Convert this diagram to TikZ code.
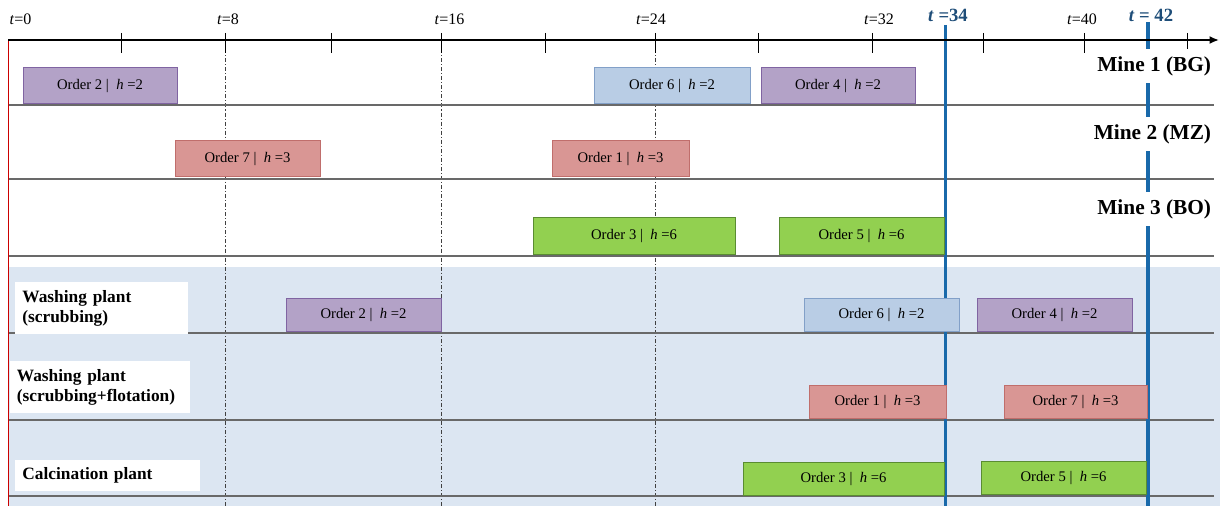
\documentclass[tikz,border=0pt]{standalone}
\usepackage{fontspec}
\setmainfont{Liberation Serif}
\usepackage{tikz}
\usetikzlibrary{arrows.meta,positioning}
\definecolor{jobpurple}{RGB}{179,162,199}
\definecolor{jobpurpleline}{RGB}{128,100,162}
\definecolor{jobblue}{RGB}{185,205,229}
\definecolor{jobblueline}{RGB}{130,160,200}
\definecolor{jobred}{RGB}{217,150,148}
\definecolor{jobredline}{RGB}{192,110,108}
\definecolor{jobgreen}{RGB}{146,208,80}
\definecolor{jobgreenline}{RGB}{90,140,50}
\definecolor{plantshade}{RGB}{220,230,242}
\definecolor{rowgray}{RGB}{105,105,105}
\definecolor{cutblue}{RGB}{25,105,170}
\definecolor{cuttext}{RGB}{31,78,121}
\tikzset{
  order/.style={draw, line width=0.75pt, inner sep=0pt, font=\fontsize{11}{13}\selectfont},
  purplejob/.style={order, fill=jobpurple, draw=jobpurpleline},
  bluejob/.style={order, fill=jobblue, draw=jobblueline},
  redjob/.style={order, fill=jobred, draw=jobredline},
  greenjob/.style={order, fill=jobgreen, draw=jobgreenline},
  minerow/.style={minimum height=27pt},
  plantrow/.style={minimum height=24.75pt},
  rowline/.style={draw=rowgray, line width=1pt},
  gridline/.style={draw=black!75, line width=0.6pt, dash pattern=on 3pt off 1.5pt on 0.8pt off 1.5pt},
  cutline/.style={draw=cutblue, line width=2.6pt},
  tlabel/.style={font=\fontsize{12}{14}\selectfont, inner sep=0pt},
  cutlabel/.style={text=cuttext, font=\bfseries\fontsize{14}{16}\selectfont, inner sep=0pt},
  minelabel/.style={fill=white, anchor=east, inner xsep=2pt, minimum height=26pt, font=\bfseries\fontsize{16}{19}\selectfont},
  plantlabel/.style={fill=white, anchor=north west, align=left, inner xsep=5pt, inner ysep=0pt, font=\bfseries\fontsize{13}{15}\selectfont}
}
\begin{document}
\begin{tikzpicture}[x=0.75pt,y=-0.75pt]
\useasboundingbox (0,0) rectangle (1220,506);

% plant area
\fill[plantshade] (8,267) rectangle (1220,506);

% grid lines at t=8,16,24
\foreach \x in {225,441.5,655.5}
  \draw[gridline] (\x,40) -- (\x,506);

% rows
\foreach \y in {105,179,256,333,420,496}
  \draw[rowline] (8,\y) -- (1214,\y);

\draw[red!80!black, line width=0.8pt] (8.5,40) -- (8.5,506);

% time cuts
\draw[cutline] (945.5,25) -- (945.5,506);
\draw[cutline] (1148,22) -- (1148,506);
\node[cutlabel] (cut34) at (948,15) {\textit{t} =34};
\node[cutlabel] (cut42) at (1151,15) {\textit{t} = 42};

% time axis
\draw[line width=2pt, -{Latex[length=7pt,width=6pt]}] (8,40) -- (1219,40);
\foreach \x in {121,225,331,441.5,545,655.5,758,872,983,1084,1187}
  \draw[line width=0.75pt] (\x,33) -- (\x,53);
\foreach \x/\t in {20.5/0,228/8,449.5/16,651/24,879/32,1082/40}
  \node[tlabel] (t\t) at (\x,19) {\textit{t}=\t};

% mines
\node[minelabel] (mineone) at (1214,66) {Mine 1 (BG)};
\node[minelabel] (minetwo) at (1214,134) {Mine 2 (MZ)};
\node[minelabel] (minethree) at (1214,209) {Mine 3 (BO)};

\node[purplejob, minerow, minimum width=115.5pt] (m1o2) at (100,86) {Order 2 |\ \ \textit{h} =2};
\node[bluejob, minerow, minimum width=117pt] (m1o6) at (672,86) {Order 6 |\ \ \textit{h} =2};
\node[purplejob, minerow, minimum width=115.5pt] (m1o4) at (838,86) {Order 4 |\ \ \textit{h} =2};

\node[redjob, minerow, minimum width=108.75pt] (m2o7) at (247.5,159) {Order 7 |\ \ \textit{h} =3};
\node[redjob, minerow, minimum width=102.75pt] (m2o1) at (620.5,159) {Order 1 |\ \ \textit{h} =3};

\node[greenjob, minerow, minimum height=27.75pt, minimum width=151.5pt] (m3o3) at (634,235.5) {Order 3 |\ \ \textit{h} =6};
\node[greenjob, minerow, minimum height=27.75pt, minimum width=123.75pt] (m3o5) at (861.5,235.5) {Order 5 |\ \ \textit{h} =6};

% plants
\node[plantlabel, minimum width=129.75pt, minimum height=39pt, text width=119pt] (washscrub) at (15,282) {Washing plant\\(scrubbing)};
\node[plantlabel, minimum width=135pt, minimum height=39pt, text width=125pt] (washflot) at (10,361) {Washing plant\\(scrubbing+flotation)};
\node[plantlabel, minimum width=138.75pt, minimum height=23pt, text width=128pt] (calcplant) at (15,460) {Calcination plant};

\node[purplejob, plantrow, minimum width=116.25pt] (wso2) at (363.5,314.5) {Order 2 |\ \ \textit{h} =2};
\node[bluejob, plantrow, minimum width=116.25pt] (wso6) at (881.5,314.5) {Order 6 |\ \ \textit{h} =2};
\node[purplejob, plantrow, minimum width=116.25pt] (wso4) at (1054.5,314.5) {Order 4 |\ \ \textit{h} =2};

\node[redjob, plantrow, minimum width=102.75pt] (wfo1) at (877.5,401.5) {Order 1 |\ \ \textit{h} =3};
\node[redjob, plantrow, minimum width=107.25pt] (wfo7) at (1075.5,401.5) {Order 7 |\ \ \textit{h} =3};

\node[greenjob, plantrow, minimum width=150.75pt] (cpo3) at (843.5,478.5) {Order 3 |\ \ \textit{h} =6};
\node[greenjob, plantrow, minimum width=123.75pt] (cpo5) at (1063.5,477.5) {Order 5 |\ \ \textit{h} =6};
\end{tikzpicture}
\end{document}
